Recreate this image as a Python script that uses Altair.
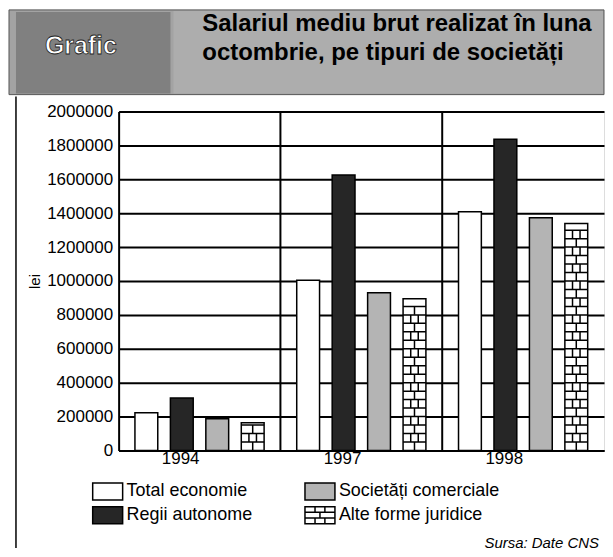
import altair as alt
import pandas as pd

# ---- data ----
years = ["1994", "1997", "1998"]
series = ["Total economie", "Regii autonome", "Societăți comerciale", "Alte forme juridice"]
total_economie = [222000, 1005000, 1409000]
regii_autonome = [310000, 1626000, 1836000]
societati_comerciale = [187000, 930000, 1374000]
alte_forme = [164000, 895000, 1339000]
y_ticks = [0, 200000, 400000, 600000, 800000, 1000000, 1200000, 1400000, 1600000, 1800000, 2000000]
# legend entries are laid out column by column
legend_order = ["Total economie", "Regii autonome", "Societăți comerciale", "Alte forme juridice"]

title_line1 = "Salariul mediu brut realizat în luna"
title_line2 = "octombrie, pe tipuri de societăți"
source_text = "Sursa: Date CNS"

fill_by_series = {
    "Total economie": "#ffffff",
    "Regii autonome": "#262626",
    "Societăți comerciale": "#b4b4b4",
    "Alte forme juridice": "#ffffff",
}
RECT = "M-1.67,-0.95L1.67,-0.95L1.67,0.95L-1.67,0.95Z"
BRICK = (RECT + "M-1.67,-0.32L1.67,-0.32M-1.67,0.32L1.67,0.32"
         "M-0.55,-0.95L-0.55,-0.32M0.55,-0.95L0.55,-0.32M0,-0.32L0,0.32"
         "M-0.55,0.32L-0.55,0.95M0.55,0.32L0.55,0.95")
shape_by_series = {
    "Total economie": RECT,
    "Regii autonome": RECT,
    "Societăți comerciale": RECT,
    "Alte forme juridice": BRICK,
}

rows = []
for vals, s in zip([total_economie, regii_autonome, societati_comerciale, alte_forme], series):
    for y, v in zip(years, vals):
        rows.append({"year": y, "series": s, "value": v, "fillc": fill_by_series[s]})
df = pd.DataFrame(rows)

W, H = 487, 340
FONT = "Liberation Sans"

x_enc = alt.X("year:N", scale=alt.Scale(paddingInner=0, paddingOuter=0),
              axis=alt.Axis(title=None, labelAngle=0, labelFontSize=17, ticks=False,
                            labelPadding=8, domainColor="black", domainWidth=2,
                            labelColor="black", labelFont=FONT))
xo_enc = alt.XOffset("series:N", scale=alt.Scale(domain=series, paddingInner=0.356, paddingOuter=0.46))
y_axis = alt.Axis(values=y_ticks, format="d", title="lei", grid=True, gridColor="black",
                  gridWidth=2, tickSize=0, labelPadding=6, labelFontSize=17, labelColor="black",
                  labelOverlap=False, labelBound=False,
                  titleFontSize=15, titleFontWeight="normal", titlePadding=4, titleColor="black",
                  domainColor="black", domainWidth=2, labelFont=FONT, titleFont=FONT)
y_scale = alt.Scale(domain=[0, 2000000])

base = alt.Chart(df)

bars = base.mark_bar(stroke="black", strokeWidth=1.5).encode(
    x=x_enc, xOffset=xo_enc,
    y=alt.Y("value:Q", scale=y_scale, axis=y_axis),
    fill=alt.Fill("fillc:N", scale=None),
)

seps = alt.Chart(pd.DataFrame({"year": years[1:]})).mark_rule(color="black", strokeWidth=2).encode(
    x=alt.X("year:N", bandPosition=0)
)

ROW_A = "M-1,0L1,0M-0.33,0L-0.33,0.74M0.33,0L0.33,0.74"
ROW_B = "M-1,0L1,0M0,0L0,0.74"
bricks = base.transform_filter(
    alt.datum.series == "Alte forme juridice"
).transform_calculate(
    levels="sequence(50000, datum.value, 50000)"
).transform_flatten(["levels"]).transform_calculate(
    pat=f"(round(datum.levels/50000) % 2 == 0) ? '{ROW_A}' : '{ROW_B}'"
).mark_point(filled=False, strokeWidth=1.5, size=524, opacity=1).encode(
    x=alt.X("year:N"), xOffset=alt.XOffset("series:N"),
    y=alt.Y("levels:Q", scale=y_scale, axis=y_axis),
    shape=alt.Shape("pat:N", scale=None),
    color=alt.value("black"),
)

leg = alt.Legend(title=None, orient="none", legendX=-21, legendY=371, columns=2,
                 columnPadding=48, rowPadding=0, labelFontSize=18, labelFont=FONT,
                 labelColor="black", labelOffset=9, labelLimit=300, symbolSize=324, padding=0,
                 symbolStrokeColor="black", symbolStrokeWidth=1.5, symbolOpacity=1)
legend_layer = base.transform_filter("false").mark_point(filled=False, strokeWidth=1.5).encode(
    fill=alt.Fill("series:N", scale=alt.Scale(domain=legend_order,
                                               range=[fill_by_series[s] for s in legend_order]),
                  legend=leg),
    shape=alt.Shape("series:N", scale=alt.Scale(domain=legend_order,
                                                 range=[shape_by_series[s] for s in legend_order]),
                    legend=leg),
    stroke=alt.value("black"),
)

one = alt.Chart(pd.DataFrame({"a": [0]}))
band = one.mark_rect(fill="#a3a3a3", stroke="#555555", strokeWidth=1).encode(
    x=alt.value(-110), x2=alt.value(487), y=alt.value(-102), y2=alt.value(-17))
grafic_box = one.mark_rect(fill="#808080").encode(
    x=alt.value(-103), x2=alt.value(52), y=alt.value(-100), y2=alt.value(-18))
title_box = one.mark_rect(fill="#adadad").encode(
    x=alt.value(55), x2=alt.value(486), y=alt.value(-101), y2=alt.value(-18))
grafic_txt = one.mark_text(text="Grafic", font=FONT, fontSize=25, fontWeight="bold", color="white",
                           align="left", baseline="middle", stroke="#222222", strokeWidth=0.8).encode(
    x=alt.value(-74), y=alt.value(-66))
t1 = one.mark_text(text=title_line1, font=FONT, fontSize=24, fontWeight="bold", color="black",
                   align="left", baseline="middle").encode(x=alt.value(84), y=alt.value(-88))
t2 = one.mark_text(text=title_line2, font=FONT, fontSize=24, fontWeight="bold", color="black",
                   align="left", baseline="middle").encode(x=alt.value(84), y=alt.value(-59))
frame = one.mark_rule(color="black", strokeWidth=1.5).encode(
    x=alt.value(-103), y=alt.value(-15), y2=alt.value(438))
src = one.mark_text(text=source_text, font=FONT, fontSize=15, fontStyle="italic", color="black",
                    align="right", baseline="middle").encode(x=alt.value(482), y=alt.value(433))

chart = alt.layer(
    band, grafic_box, title_box, grafic_txt, t1, t2, frame,
    seps, bars, bricks, legend_layer, src
).properties(width=W, height=H, padding=0).configure_view(
    stroke="black", strokeWidth=2
).configure(font=FONT)

chart.save("out.html", embed_options={"renderer": "svg", "actions": False})
